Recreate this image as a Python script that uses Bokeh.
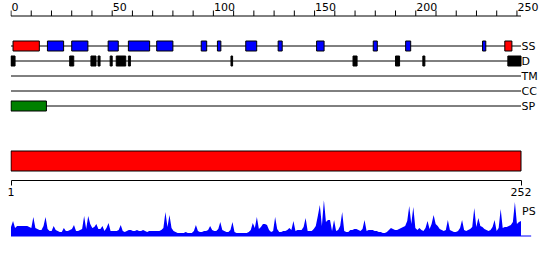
from bokeh.plotting import figure
from bokeh.layouts import column
from bokeh.models import Range1d, FixedTicker
from bokeh.embed import file_html
from bokeh.resources import INLINE

# ---------------- data ----------------
SEQ_LEN = 252
track_names = ["SS", "D", "TM", "CC", "SP"]

helix_start = [1, 244]
helix_end = [14, 247.5]
strand_start = [18, 30, 48, 58, 72, 94, 102, 116, 132, 151, 179, 195, 233]
strand_end = [26, 38, 53, 68.5, 80, 96.7, 103.7, 121.4, 134, 154.7, 181, 197.5, 234.6]
disorder_start = [0, 29, 39.5, 43, 49, 52, 58, 108.7, 169, 190, 203.5, 245.5]
disorder_end = [2, 31, 42, 44, 50, 56.7, 59, 109.5, 171, 192, 204.5, 252]
signal_start = [0]
signal_end = [17.5]

top_major_ticks = [0, 50, 100, 150, 200, 250]
top_minor_ticks = [0, 10, 20, 30, 40, 50, 60, 70, 80, 90, 100, 110, 120, 130, 140, 150,
                   160, 170, 180, 190, 200, 210, 220, 230, 240, 250]
top_tick_labels = ["0", "50", "100", "150", "200", "250"]
bottom_ticks = [1, 252]

domain_start = [1]
domain_end = [252]

ps_values = [
    9, 15, 8, 10, 10, 10, 10, 10, 10, 9,
    8, 19, 8, 7, 6, 6, 10, 19, 7, 5,
    5, 10, 6, 5, 4, 4, 8, 5, 5, 6,
    7, 11, 5, 5, 6, 7, 20, 7, 20, 12,
    8, 9, 12, 7, 7, 10, 5, 8, 13, 5,
    5, 5, 5, 6, 11, 5, 4, 5, 6, 6,
    5, 5, 6, 5, 5, 6, 5, 4, 5, 5,
    5, 5, 5, 5, 6, 8, 24, 9, 21, 8,
    5, 4, 3, 3, 3, 3, 4, 3, 3, 3,
    5, 11, 5, 4, 4, 5, 5, 6, 10, 6,
    5, 5, 7, 14, 6, 5, 4, 4, 6, 14,
    4, 3, 3, 3, 3, 3, 3, 4, 6, 13,
    8, 19, 7, 9, 12, 12, 11, 6, 4, 5,
    19, 7, 4, 4, 5, 5, 6, 8, 6, 15,
    5, 6, 6, 6, 9, 18, 5, 5, 5, 7,
    10, 20, 31, 10, 36, 14, 16, 16, 5, 16,
    5, 6, 10, 24, 5, 4, 4, 6, 6, 7,
    7, 6, 5, 7, 16, 5, 6, 6, 6, 5,
    5, 4, 4, 3, 3, 4, 6, 8, 7, 6,
    6, 7, 8, 9, 10, 15, 30, 12, 29, 8,
    6, 8, 6, 5, 8, 15, 7, 12, 21, 12,
    10, 7, 6, 5, 6, 16, 6, 5, 4, 4,
    5, 8, 16, 6, 5, 6, 7, 9, 28, 9,
    18, 10, 9, 7, 6, 5, 6, 9, 16, 5,
    8, 27, 8, 9, 9, 10, 11, 14, 34, 12,
    14, 15,
]
residues = list(range(1, len(ps_values) + 1))

# ---------------- layout constants ----------------
W = 550
FRAME_LEFT = 10
TRACK_PX = 510.0                       # pixels spanned by the sequence
FRAME_W = W - FRAME_LEFT
FONT = "DejaVu Sans"
FS = "11px"

k_top = TRACK_PX / SEQ_LEN
k_bot = TRACK_PX / (SEQ_LEN - 1)
top_range = Range1d(-0.5 / k_top, (FRAME_W - 0.5) / k_top)
bot_range = Range1d(1 - 0.5 / k_bot, 1 + (FRAME_W - 0.5) / k_bot)

AXIS_Y = 15.5
TICK_LEN = 5
LABEL_MID_Y = 6
track_y = [45.5, 60.5, 75.5, 90.5, 105.5]
BOX_H = 5


def base_fig(height, x_range, y_range, xloc):
    p = figure(width=W, height=height, x_range=x_range, y_range=y_range,
               x_axis_location=xloc, y_axis_location=None,
               toolbar_location=None, output_backend="svg",
               min_border_left=FRAME_LEFT, min_border_right=0,
               min_border_top=0, min_border_bottom=0)
    p.grid.visible = False
    p.outline_line_color = None
    p.background_fill_color = "white"
    p.border_fill_color = "white"
    return p


# ---------------- top panel: position ruler + tracks ----------------
p1 = base_fig(120, top_range, Range1d(120, 0), None)

# ruler (position scale 0..250) drawn from the tick lists
p1.segment(x0=[0], x1=[SEQ_LEN], y0=[AXIS_Y], y1=[AXIS_Y], line_color="black", line_width=1)
p1.segment(x0=top_minor_ticks, x1=top_minor_ticks,
           y0=[AXIS_Y] * len(top_minor_ticks), y1=[AXIS_Y - TICK_LEN - 0.5] * len(top_minor_ticks),
           line_color="black", line_width=1)
p1.text(x=top_major_ticks, y=[LABEL_MID_Y] * len(top_major_ticks), text=top_tick_labels,
        text_align="left", text_baseline="middle", x_offset=0.5,
        text_font={"value": FONT}, text_font_size={"value": FS}, text_color="black")

# baselines of the tracks
p1.segment(x0=[0] * len(track_y), x1=[SEQ_LEN] * len(track_y), y0=track_y, y1=track_y,
           line_color="black", line_width=1)

ss_y, d_y, tm_y, cc_y, sp_y = track_y
p1.quad(left=strand_start, right=strand_end, top=[ss_y - BOX_H] * len(strand_start),
        bottom=[ss_y + BOX_H] * len(strand_start), fill_color="#0000ff", line_color="black")
p1.quad(left=helix_start, right=helix_end, top=[ss_y - BOX_H] * len(helix_start),
        bottom=[ss_y + BOX_H] * len(helix_start), fill_color="#ff0000", line_color="black")
p1.quad(left=disorder_start, right=disorder_end, top=[d_y - BOX_H] * len(disorder_start),
        bottom=[d_y + BOX_H] * len(disorder_start), fill_color="black", line_color="black")
p1.quad(left=signal_start, right=signal_end, top=[sp_y - BOX_H] * len(signal_start),
        bottom=[sp_y + BOX_H] * len(signal_start), fill_color="#008000", line_color="black")

p1.text(x=[SEQ_LEN + 0.3] * len(track_names), y=track_y, text=track_names,
        text_align="left", text_baseline="middle", text_font={"value": FONT},
        text_font_size={"value": FS}, text_color="black")

# ---------------- middle panel: domain bar + residue axis ----------------
p2 = base_fig(80, bot_range, Range1d(180, 120), "below")
p2.min_border_bottom = 20
bx = p2.xaxis[0]
bx.ticker = FixedTicker(ticks=bottom_ticks, minor_ticks=[])
bx.bounds = (1, SEQ_LEN)
bx.major_tick_in = 0
bx.major_tick_out = 5
bx.minor_tick_line_color = None
bx.axis_line_color = "black"
bx.major_tick_line_color = "black"
bx.major_label_standoff = 2
bx.major_label_text_font = FONT
bx.major_label_text_font_size = FS
bx.major_label_text_color = "black"

p2.quad(left=domain_start, right=domain_end, top=[150.5], bottom=[170.5],
        fill_color="#ff0000", line_color="black")

# ---------------- bottom panel: PS profile ----------------
p3 = base_fig(60, bot_range, Range1d(-24.5, 35.5), None)
p3.varea(x=residues, y1=[0] * len(residues), y2=ps_values, fill_color="#0000ff")
p3.segment(x0=[1], x1=[SEQ_LEN + 5], y0=[0], y1=[0], line_color="#0000ff", line_width=1)
p3.text(x=[SEQ_LEN + 0.5], y=[25], text=["PS"], text_align="left",
        text_baseline="middle", text_font={"value": FONT},
        text_font_size={"value": FS}, text_color="black")

layout = column(p1, p2, p3, spacing=0)
open("out.html", "w").write(file_html(layout, INLINE))
